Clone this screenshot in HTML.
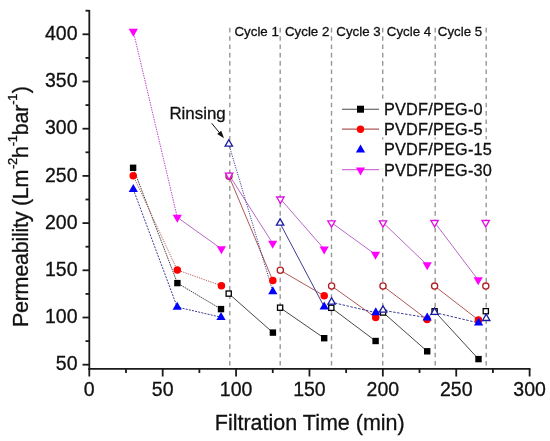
<!DOCTYPE html><html><head><meta charset="utf-8"><style>html,body{margin:0;padding:0;background:#fff;width:550px;height:441px;overflow:hidden;position:relative}</style></head><body><svg width="550" height="441" viewBox="0 0 550 441" style="position:absolute;left:0;top:0">
<defs><filter id="g" filterUnits="userSpaceOnUse" x="0" y="0" width="550" height="441"><feColorMatrix type="identity"/></filter></defs>
<g filter="url(#g)">
<rect width="550" height="441" fill="#fff"/>
<line x1="229.8" y1="27.8" x2="229.8" y2="367.9" stroke="#979797" stroke-width="1.4" stroke-dasharray="4.6 3.73"/>
<line x1="280.2" y1="27.8" x2="280.2" y2="367.9" stroke="#979797" stroke-width="1.4" stroke-dasharray="4.6 3.73"/>
<line x1="331.5" y1="27.8" x2="331.5" y2="367.9" stroke="#979797" stroke-width="1.4" stroke-dasharray="4.6 3.73"/>
<line x1="382.7" y1="27.8" x2="382.7" y2="367.9" stroke="#979797" stroke-width="1.4" stroke-dasharray="4.6 3.73"/>
<line x1="435.2" y1="27.8" x2="435.2" y2="367.9" stroke="#979797" stroke-width="1.4" stroke-dasharray="4.6 3.73"/>
<line x1="486.2" y1="27.8" x2="486.2" y2="367.9" stroke="#979797" stroke-width="1.4" stroke-dasharray="4.6 3.73"/>
<line x1="89.3" y1="10" x2="89.3" y2="369.79999999999995" stroke="#1a1a1a" stroke-width="1.8"/>
<line x1="88.39999999999999" y1="368.9" x2="530.51" y2="368.9" stroke="#1a1a1a" stroke-width="1.8"/>
<line x1="82.5" y1="364.70" x2="89.3" y2="364.70" stroke="#1a1a1a" stroke-width="1.8"/>
<line x1="82.5" y1="317.50" x2="89.3" y2="317.50" stroke="#1a1a1a" stroke-width="1.8"/>
<line x1="82.5" y1="270.30" x2="89.3" y2="270.30" stroke="#1a1a1a" stroke-width="1.8"/>
<line x1="82.5" y1="223.10" x2="89.3" y2="223.10" stroke="#1a1a1a" stroke-width="1.8"/>
<line x1="82.5" y1="175.90" x2="89.3" y2="175.90" stroke="#1a1a1a" stroke-width="1.8"/>
<line x1="82.5" y1="128.70" x2="89.3" y2="128.70" stroke="#1a1a1a" stroke-width="1.8"/>
<line x1="82.5" y1="81.50" x2="89.3" y2="81.50" stroke="#1a1a1a" stroke-width="1.8"/>
<line x1="82.5" y1="34.30" x2="89.3" y2="34.30" stroke="#1a1a1a" stroke-width="1.8"/>
<line x1="85.5" y1="341.10" x2="89.3" y2="341.10" stroke="#1a1a1a" stroke-width="1.8"/>
<line x1="85.5" y1="293.90" x2="89.3" y2="293.90" stroke="#1a1a1a" stroke-width="1.8"/>
<line x1="85.5" y1="246.70" x2="89.3" y2="246.70" stroke="#1a1a1a" stroke-width="1.8"/>
<line x1="85.5" y1="199.50" x2="89.3" y2="199.50" stroke="#1a1a1a" stroke-width="1.8"/>
<line x1="85.5" y1="152.30" x2="89.3" y2="152.30" stroke="#1a1a1a" stroke-width="1.8"/>
<line x1="85.5" y1="105.10" x2="89.3" y2="105.10" stroke="#1a1a1a" stroke-width="1.8"/>
<line x1="85.5" y1="57.90" x2="89.3" y2="57.90" stroke="#1a1a1a" stroke-width="1.8"/>
<line x1="85.5" y1="10.70" x2="89.3" y2="10.70" stroke="#1a1a1a" stroke-width="1.8"/>
<line x1="89.30" y1="368.9" x2="89.30" y2="376.5" stroke="#1a1a1a" stroke-width="1.8"/>
<line x1="162.69" y1="368.9" x2="162.69" y2="376.5" stroke="#1a1a1a" stroke-width="1.8"/>
<line x1="236.07" y1="368.9" x2="236.07" y2="376.5" stroke="#1a1a1a" stroke-width="1.8"/>
<line x1="309.45" y1="368.9" x2="309.45" y2="376.5" stroke="#1a1a1a" stroke-width="1.8"/>
<line x1="382.84" y1="368.9" x2="382.84" y2="376.5" stroke="#1a1a1a" stroke-width="1.8"/>
<line x1="456.23" y1="368.9" x2="456.23" y2="376.5" stroke="#1a1a1a" stroke-width="1.8"/>
<line x1="529.61" y1="368.9" x2="529.61" y2="376.5" stroke="#1a1a1a" stroke-width="1.8"/>
<line x1="125.99" y1="368.9" x2="125.99" y2="373" stroke="#1a1a1a" stroke-width="1.8"/>
<line x1="199.38" y1="368.9" x2="199.38" y2="373" stroke="#1a1a1a" stroke-width="1.8"/>
<line x1="272.76" y1="368.9" x2="272.76" y2="373" stroke="#1a1a1a" stroke-width="1.8"/>
<line x1="346.15" y1="368.9" x2="346.15" y2="373" stroke="#1a1a1a" stroke-width="1.8"/>
<line x1="419.53" y1="368.9" x2="419.53" y2="373" stroke="#1a1a1a" stroke-width="1.8"/>
<line x1="492.92" y1="368.9" x2="492.92" y2="373" stroke="#1a1a1a" stroke-width="1.8"/>
<text x="77.5" y="370.48" font-family='"Liberation Sans", sans-serif' font-size="19.5" text-anchor="end" fill="#111" stroke="#111" stroke-width="0.3">50</text>
<text x="77.5" y="323.28" font-family='"Liberation Sans", sans-serif' font-size="19.5" text-anchor="end" fill="#111" stroke="#111" stroke-width="0.3">100</text>
<text x="77.5" y="276.08" font-family='"Liberation Sans", sans-serif' font-size="19.5" text-anchor="end" fill="#111" stroke="#111" stroke-width="0.3">150</text>
<text x="77.5" y="228.88" font-family='"Liberation Sans", sans-serif' font-size="19.5" text-anchor="end" fill="#111" stroke="#111" stroke-width="0.3">200</text>
<text x="77.5" y="181.68" font-family='"Liberation Sans", sans-serif' font-size="19.5" text-anchor="end" fill="#111" stroke="#111" stroke-width="0.3">250</text>
<text x="77.5" y="134.48" font-family='"Liberation Sans", sans-serif' font-size="19.5" text-anchor="end" fill="#111" stroke="#111" stroke-width="0.3">300</text>
<text x="77.5" y="87.28" font-family='"Liberation Sans", sans-serif' font-size="19.5" text-anchor="end" fill="#111" stroke="#111" stroke-width="0.3">350</text>
<text x="77.5" y="40.08" font-family='"Liberation Sans", sans-serif' font-size="19.5" text-anchor="end" fill="#111" stroke="#111" stroke-width="0.3">400</text>
<text x="89.30" y="395.7" font-family='"Liberation Sans", sans-serif' font-size="19.5" text-anchor="middle" fill="#111" stroke="#111" stroke-width="0.3">0</text>
<text x="162.69" y="395.7" font-family='"Liberation Sans", sans-serif' font-size="19.5" text-anchor="middle" fill="#111" stroke="#111" stroke-width="0.3">50</text>
<text x="236.07" y="395.7" font-family='"Liberation Sans", sans-serif' font-size="19.5" text-anchor="middle" fill="#111" stroke="#111" stroke-width="0.3">100</text>
<text x="309.45" y="395.7" font-family='"Liberation Sans", sans-serif' font-size="19.5" text-anchor="middle" fill="#111" stroke="#111" stroke-width="0.3">150</text>
<text x="382.84" y="395.7" font-family='"Liberation Sans", sans-serif' font-size="19.5" text-anchor="middle" fill="#111" stroke="#111" stroke-width="0.3">200</text>
<text x="456.23" y="395.7" font-family='"Liberation Sans", sans-serif' font-size="19.5" text-anchor="middle" fill="#111" stroke="#111" stroke-width="0.3">250</text>
<text x="529.61" y="395.7" font-family='"Liberation Sans", sans-serif' font-size="19.5" text-anchor="middle" fill="#111" stroke="#111" stroke-width="0.3">300</text>
<text x="214.8" y="429.8" font-family='"Liberation Sans", sans-serif' font-size="21.5" fill="#111" stroke="#111" stroke-width="0.3">Filtration Time (min)</text>
<g transform="translate(27.8 327.1) rotate(-90)"><text x="0" y="0" font-family='"Liberation Sans", sans-serif' font-size="21.5" stroke="#111" stroke-width="0.3" fill="#111" letter-spacing="-0.25">Permeability (Lm<tspan font-size="13" dy="-11" dx="0.8">-2</tspan><tspan dy="11" dx="0">h</tspan><tspan font-size="13" dy="-11">-1</tspan><tspan dy="11" dx="0">bar</tspan><tspan font-size="13" dy="-11">-1</tspan><tspan dy="11" dx="0.5">)</tspan></text></g>
<text x="234.5" y="35.8" font-family='"Liberation Sans", sans-serif' font-size="13.3" fill="#111" stroke="#111" stroke-width="0.3">Cycle 1</text>
<text x="285" y="35.8" font-family='"Liberation Sans", sans-serif' font-size="13.3" fill="#111" stroke="#111" stroke-width="0.3">Cycle 2</text>
<text x="336.3" y="35.8" font-family='"Liberation Sans", sans-serif' font-size="13.3" fill="#111" stroke="#111" stroke-width="0.3">Cycle 3</text>
<text x="386.8" y="35.8" font-family='"Liberation Sans", sans-serif' font-size="13.3" fill="#111" stroke="#111" stroke-width="0.3">Cycle 4</text>
<text x="437.8" y="35.8" font-family='"Liberation Sans", sans-serif' font-size="13.3" fill="#111" stroke="#111" stroke-width="0.3">Cycle 5</text>
<polyline points="133.10,167.80 177.40,283.10 221.00,309.10" fill="none" stroke="#484848" stroke-width="1.0" stroke-dasharray="1.6 0.8"/>
<polyline points="133.20,175.70 177.30,270.00 221.40,285.70" fill="none" stroke="#b05858" stroke-width="1.0" stroke-dasharray="1.2 1.2"/>
<polyline points="133.30,189.33 177.20,307.03 221.00,317.23" fill="none" stroke="#3c3c94" stroke-width="1.0" stroke-dasharray="2 1.2"/>
<polyline points="133.30,31.37 177.30,217.37" fill="none" stroke="#c048d0" stroke-width="1.0" stroke-dasharray="1.5 1"/>
<polyline points="177.30,217.37 221.40,248.87" fill="none" stroke="#b868c8" stroke-width="1.0"/>
<polyline points="228.70,293.60 272.90,332.60" fill="none" stroke="#484848" stroke-width="1.0"/>
<polyline points="229.00,176.30 272.80,280.50" fill="none" stroke="#b05858" stroke-width="1.0"/>
<polyline points="229.10,174.97 272.70,243.37" fill="none" stroke="#b868c8" stroke-width="1.0"/>
<polyline points="280.10,307.70 324.20,338.20" fill="none" stroke="#484848" stroke-width="1.0"/>
<polyline points="280.30,270.30 324.20,295.80" fill="none" stroke="#b05858" stroke-width="1.0"/>
<polyline points="280.40,198.87 324.20,249.07" fill="none" stroke="#b868c8" stroke-width="1.0"/>
<polyline points="331.30,307.80 375.60,341.00" fill="none" stroke="#484848" stroke-width="1.0"/>
<polyline points="331.60,286.00 375.70,317.50" fill="none" stroke="#b05858" stroke-width="1.0"/>
<polyline points="331.50,222.67 375.50,254.47" fill="none" stroke="#b868c8" stroke-width="1.0"/>
<polyline points="383.10,312.50 427.20,351.30" fill="none" stroke="#484848" stroke-width="1.0"/>
<polyline points="383.00,286.00 427.10,319.50" fill="none" stroke="#b05858" stroke-width="1.0"/>
<polyline points="383.00,222.67 427.20,264.97" fill="none" stroke="#b868c8" stroke-width="1.0"/>
<polyline points="434.60,311.30 478.50,359.10" fill="none" stroke="#484848" stroke-width="1.0"/>
<polyline points="434.60,286.10 478.40,319.90" fill="none" stroke="#b05858" stroke-width="1.0"/>
<polyline points="434.60,222.37 478.20,279.97" fill="none" stroke="#b868c8" stroke-width="1.0"/>
<polyline points="228.80,144.23 272.80,291.53" fill="none" stroke="#3c3c94" stroke-width="1.0" stroke-dasharray="1.2 1.2"/>
<polyline points="280.10,223.33 324.20,306.83" fill="none" stroke="#3c3c94" stroke-width="1.0"/>
<polyline points="324.20,306.83 331.60,302.23 375.80,312.63 383.00,310.33 427.20,317.73 434.60,312.53 478.60,322.93 486.20,318.63" fill="none" stroke="#3c3c94" stroke-width="1.0" stroke-dasharray="2.5 1.5"/>
<rect x="129.90" y="164.60" width="6.4" height="6.4" fill="#000"/>
<rect x="174.20" y="279.90" width="6.4" height="6.4" fill="#000"/>
<rect x="217.80" y="305.90" width="6.4" height="6.4" fill="#000"/>
<rect x="269.70" y="329.40" width="6.4" height="6.4" fill="#000"/>
<rect x="321.00" y="335.00" width="6.4" height="6.4" fill="#000"/>
<rect x="372.40" y="337.80" width="6.4" height="6.4" fill="#000"/>
<rect x="424.00" y="348.10" width="6.4" height="6.4" fill="#000"/>
<rect x="475.30" y="355.90" width="6.4" height="6.4" fill="#000"/>
<rect x="226.10" y="291.00" width="5.2" height="5.2" fill="#fff" stroke="#000" stroke-width="1.3"/>
<rect x="277.50" y="305.10" width="5.2" height="5.2" fill="#fff" stroke="#000" stroke-width="1.3"/>
<rect x="328.70" y="305.20" width="5.2" height="5.2" fill="#fff" stroke="#000" stroke-width="1.3"/>
<rect x="380.50" y="309.90" width="5.2" height="5.2" fill="#fff" stroke="#000" stroke-width="1.3"/>
<rect x="432.00" y="308.70" width="5.2" height="5.2" fill="#fff" stroke="#000" stroke-width="1.3"/>
<rect x="483.20" y="308.60" width="5.2" height="5.2" fill="#fff" stroke="#000" stroke-width="1.3"/>
<circle cx="133.2" cy="175.7" r="3.75" fill="#f00"/>
<circle cx="177.3" cy="270" r="3.75" fill="#f00"/>
<circle cx="221.4" cy="285.7" r="3.75" fill="#f00"/>
<circle cx="272.8" cy="280.5" r="3.75" fill="#f00"/>
<circle cx="324.2" cy="295.8" r="3.75" fill="#f00"/>
<circle cx="375.7" cy="317.5" r="3.75" fill="#f00"/>
<circle cx="427.1" cy="319.5" r="3.75" fill="#f00"/>
<circle cx="478.4" cy="319.9" r="3.75" fill="#f00"/>
<circle cx="229" cy="176.3" r="3.1" fill="#fff" stroke="#a02860" stroke-width="1.3"/>
<circle cx="280.3" cy="270.3" r="3.1" fill="#fff" stroke="#b02020" stroke-width="1.3"/>
<circle cx="331.6" cy="286" r="3.1" fill="#fff" stroke="#b02020" stroke-width="1.3"/>
<circle cx="383" cy="286" r="3.1" fill="#fff" stroke="#b02020" stroke-width="1.3"/>
<circle cx="434.6" cy="286.1" r="3.1" fill="#fff" stroke="#b02020" stroke-width="1.3"/>
<circle cx="485.8" cy="286.1" r="3.1" fill="#fff" stroke="#b02020" stroke-width="1.3"/>
<polygon points="128.70,192.00 137.90,192.00 133.30,184.00" fill="#00f"/>
<polygon points="172.60,309.70 181.80,309.70 177.20,301.70" fill="#00f"/>
<polygon points="216.40,319.90 225.60,319.90 221.00,311.90" fill="#00f"/>
<polygon points="268.20,294.20 277.40,294.20 272.80,286.20" fill="#00f"/>
<polygon points="319.60,309.50 328.80,309.50 324.20,301.50" fill="#00f"/>
<polygon points="371.20,315.30 380.40,315.30 375.80,307.30" fill="#00f"/>
<polygon points="422.60,320.40 431.80,320.40 427.20,312.40" fill="#00f"/>
<polygon points="474.00,325.60 483.20,325.60 478.60,317.60" fill="#00f"/>
<polygon points="225.10,146.10 232.50,146.10 228.80,139.70" fill="#fff" stroke="#1a1aa0" stroke-width="1.3" stroke-linejoin="miter"/>
<polygon points="276.40,225.20 283.80,225.20 280.10,218.80" fill="#fff" stroke="#1a1aa0" stroke-width="1.3" stroke-linejoin="miter"/>
<polygon points="327.90,304.10 335.30,304.10 331.60,297.70" fill="#fff" stroke="#1a1aa0" stroke-width="1.3" stroke-linejoin="miter"/>
<polygon points="379.30,312.20 386.70,312.20 383.00,305.80" fill="#fff" stroke="#1a1aa0" stroke-width="1.3" stroke-linejoin="miter"/>
<polygon points="430.90,314.40 438.30,314.40 434.60,308.00" fill="#fff" stroke="#1a1aa0" stroke-width="1.3" stroke-linejoin="miter"/>
<polygon points="482.50,320.50 489.90,320.50 486.20,314.10" fill="#fff" stroke="#1a1aa0" stroke-width="1.3" stroke-linejoin="miter"/>
<polygon points="128.70,28.70 137.90,28.70 133.30,36.70" fill="#f0f"/>
<polygon points="172.70,214.70 181.90,214.70 177.30,222.70" fill="#f0f"/>
<polygon points="216.80,246.20 226.00,246.20 221.40,254.20" fill="#f0f"/>
<polygon points="268.10,240.70 277.30,240.70 272.70,248.70" fill="#f0f"/>
<polygon points="319.60,246.40 328.80,246.40 324.20,254.40" fill="#f0f"/>
<polygon points="370.90,251.80 380.10,251.80 375.50,259.80" fill="#f0f"/>
<polygon points="422.60,262.30 431.80,262.30 427.20,270.30" fill="#f0f"/>
<polygon points="473.60,277.30 482.80,277.30 478.20,285.30" fill="#f0f"/>
<polygon points="225.40,173.10 232.80,173.10 229.10,179.50" fill="#fff" stroke="#e010e0" stroke-width="1.3"/>
<polygon points="276.70,197.00 284.10,197.00 280.40,203.40" fill="#fff" stroke="#e010e0" stroke-width="1.3"/>
<polygon points="327.80,220.80 335.20,220.80 331.50,227.20" fill="#fff" stroke="#e010e0" stroke-width="1.3"/>
<polygon points="379.30,220.80 386.70,220.80 383.00,227.20" fill="#fff" stroke="#e010e0" stroke-width="1.3"/>
<polygon points="430.90,220.50 438.30,220.50 434.60,226.90" fill="#fff" stroke="#e010e0" stroke-width="1.3"/>
<polygon points="482.00,220.50 489.40,220.50 485.70,226.90" fill="#fff" stroke="#e010e0" stroke-width="1.3"/>
<text x="169.4" y="118.7" font-family='"Liberation Sans", sans-serif' font-size="16.9" fill="#111" stroke="#111" stroke-width="0.3">Rinsing</text>
<line x1="211.7" y1="123.3" x2="220" y2="133.4" stroke="#111" stroke-width="1"/>
<polygon points="224,138.2 217.2,134.1 221.2,130.7" fill="#111"/>
<line x1="342" y1="109.25" x2="379" y2="109.25" stroke="#484848" stroke-width="1.2"/>
<line x1="342" y1="129.1" x2="379" y2="129.1" stroke="#b05858" stroke-width="1.2"/>
<line x1="342" y1="169.7" x2="379" y2="169.7" stroke="#d070d8" stroke-width="1.2"/>
<rect x="357.00" y="105.70" width="7" height="7" fill="#000"/>
<circle cx="360.5" cy="129.2" r="3.7" fill="#f00"/>
<polygon points="355.90,152.50 365.10,152.50 360.50,144.50" fill="#00f"/>
<polygon points="355.90,167.60 365.10,167.60 360.50,175.60" fill="#f0f"/>
<rect x="381.5" y="98.7" width="100" height="19" fill="#fff"/>
<text x="384" y="114.7" font-family='"Liberation Sans", sans-serif' font-size="16.3" letter-spacing="0.2" fill="#111" stroke="#111" stroke-width="0.3">PVDF/PEG-0</text>
<rect x="381.5" y="118.5" width="100" height="19" fill="#fff"/>
<text x="384" y="134.5" font-family='"Liberation Sans", sans-serif' font-size="16.3" letter-spacing="0.2" fill="#111" stroke="#111" stroke-width="0.3">PVDF/PEG-5</text>
<rect x="381.5" y="139.4" width="109" height="19" fill="#fff"/>
<text x="384" y="155.4" font-family='"Liberation Sans", sans-serif' font-size="16.3" letter-spacing="0.2" fill="#111" stroke="#111" stroke-width="0.3">PVDF/PEG-15</text>
<rect x="381.5" y="159.5" width="109" height="19" fill="#fff"/>
<text x="384" y="175.5" font-family='"Liberation Sans", sans-serif' font-size="16.3" letter-spacing="0.2" fill="#111" stroke="#111" stroke-width="0.3">PVDF/PEG-30</text>
</g></svg></body></html>
